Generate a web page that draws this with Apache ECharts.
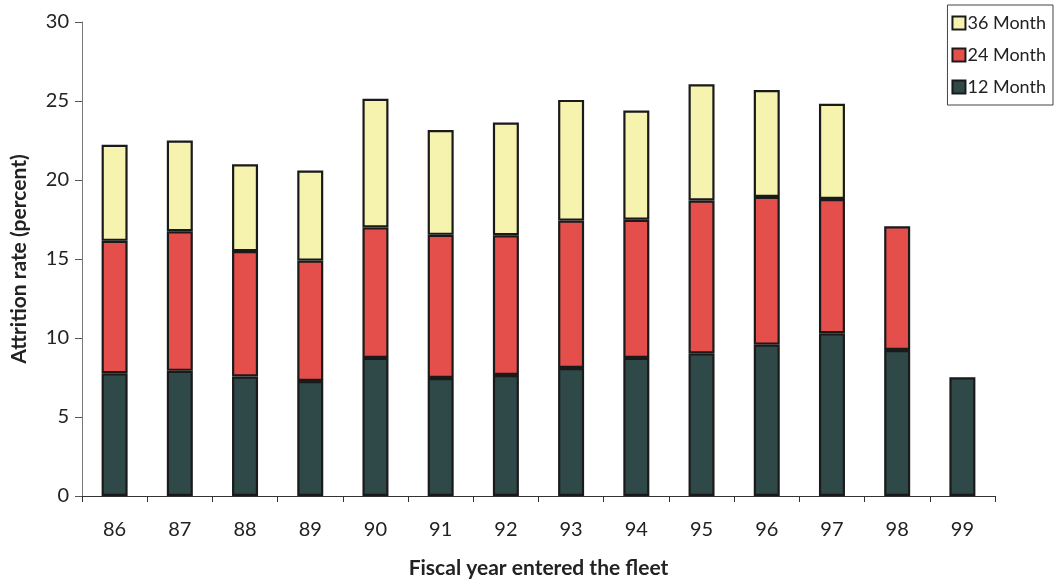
<!DOCTYPE html>
<html>
<head>
<meta charset="utf-8">
<script src="https://cdn.jsdelivr.net/npm/echarts@6/dist/echarts.min.js"></script>
<style>
  html, body { margin: 0; padding: 0; background: #ffffff; }
  #chart { width: 1054px; height: 584px; }
</style>
</head>
<body>
<div id="chart"></div>
<script>
// Fiscal year a cohort entered the fleet
const years = ['86', '87', '88', '89', '90', '91', '92', '93', '94', '95', '96', '97', '98', '99'];

// Attrition by the 12-month mark (percent)
const month12 = [7.77, 7.92, 7.56, 7.28, 8.74, 7.47, 7.66, 8.10, 8.74, 9.03, 9.58, 10.30, 9.24, 7.52];
// Additional attrition between 12 and 24 months
const month24 = [8.38, 8.84, 7.94, 7.62, 8.26, 9.06, 8.84, 9.33, 8.74, 9.67, 9.35, 8.50, 7.83, null];
// Additional attrition between 24 and 36 months
const month36 = [6.08, 5.74, 5.50, 5.70, 8.14, 6.63, 7.14, 7.64, 6.92, 7.36, 6.77, 6.02, null, null];

const yTicks = [0, 5, 10, 15, 20, 25, 30];

const FONT = 'Lato, "Open Sans", sans-serif';
const outline = { borderColor: '#1a1a1a', borderWidth: 2.2 };

const chart = echarts.init(document.getElementById('chart'), null, { renderer: 'canvas' });

chart.setOption({
  backgroundColor: '#ffffff',
  animation: false,
  textStyle: { fontFamily: FONT },
  grid: { left: 82, right: 59, top: 22, bottom: 87, containLabel: false },
  legend: {
    orient: 'vertical',
    right: 1,
    top: 5,
    data: ['36 Month', '24 Month', '12 Month'],
    icon: 'rect',
    itemWidth: 13,
    itemHeight: 13,
    itemGap: 14,
    padding: [9, 7, 9, 4],
    borderColor: '#444',
    borderWidth: 1,
    backgroundColor: '#ffffff',
    textStyle: { fontFamily: FONT, fontSize: 18, color: '#222', padding: [0, 0, 0, -3] }
  },
  xAxis: {
    type: 'category',
    data: years,
    name: 'Fiscal year entered the fleet',
    nameLocation: 'middle',
    nameGap: 62,
    nameTextStyle: { fontFamily: FONT, fontSize: 21, fontWeight: 'bold', color: '#222' },
    axisLine: { lineStyle: { color: '#333', width: 1 } },
    axisTick: { show: true, length: 6, lineStyle: { color: '#333' }, alignWithLabel: false },
    axisLabel: { fontFamily: FONT, fontSize: 20, color: '#222', margin: 24 },
    splitLine: { show: false }
  },
  yAxis: {
    type: 'value',
    min: yTicks[0],
    max: yTicks[yTicks.length - 1],
    interval: 5,
    name: 'Attrition rate (percent)',
    nameLocation: 'middle',
    nameGap: 52,
    nameTextStyle: { fontFamily: FONT, fontSize: 21, fontWeight: 'bold', color: '#222' },
    axisLine: { show: true, lineStyle: { color: '#777', width: 1 } },
    axisTick: { show: true, length: 7, lineStyle: { color: '#555' } },
    axisLabel: { fontFamily: FONT, fontSize: 20, color: '#222', margin: 13 },
    splitLine: { show: false }
  },
  series: [
    {
      name: '12 Month',
      type: 'bar',
      stack: 'rate',
      barWidth: 26,
      data: month12,
      itemStyle: Object.assign({ color: '#2f4848' }, outline)
    },
    {
      name: '24 Month',
      type: 'bar',
      stack: 'rate',
      barWidth: 26,
      data: month24,
      itemStyle: Object.assign({ color: '#e44f4c' }, outline)
    },
    {
      name: '36 Month',
      type: 'bar',
      stack: 'rate',
      barWidth: 26,
      data: month36,
      itemStyle: Object.assign({ color: '#f6f3ae' }, outline)
    }
  ]
});
</script>
</body>
</html>
